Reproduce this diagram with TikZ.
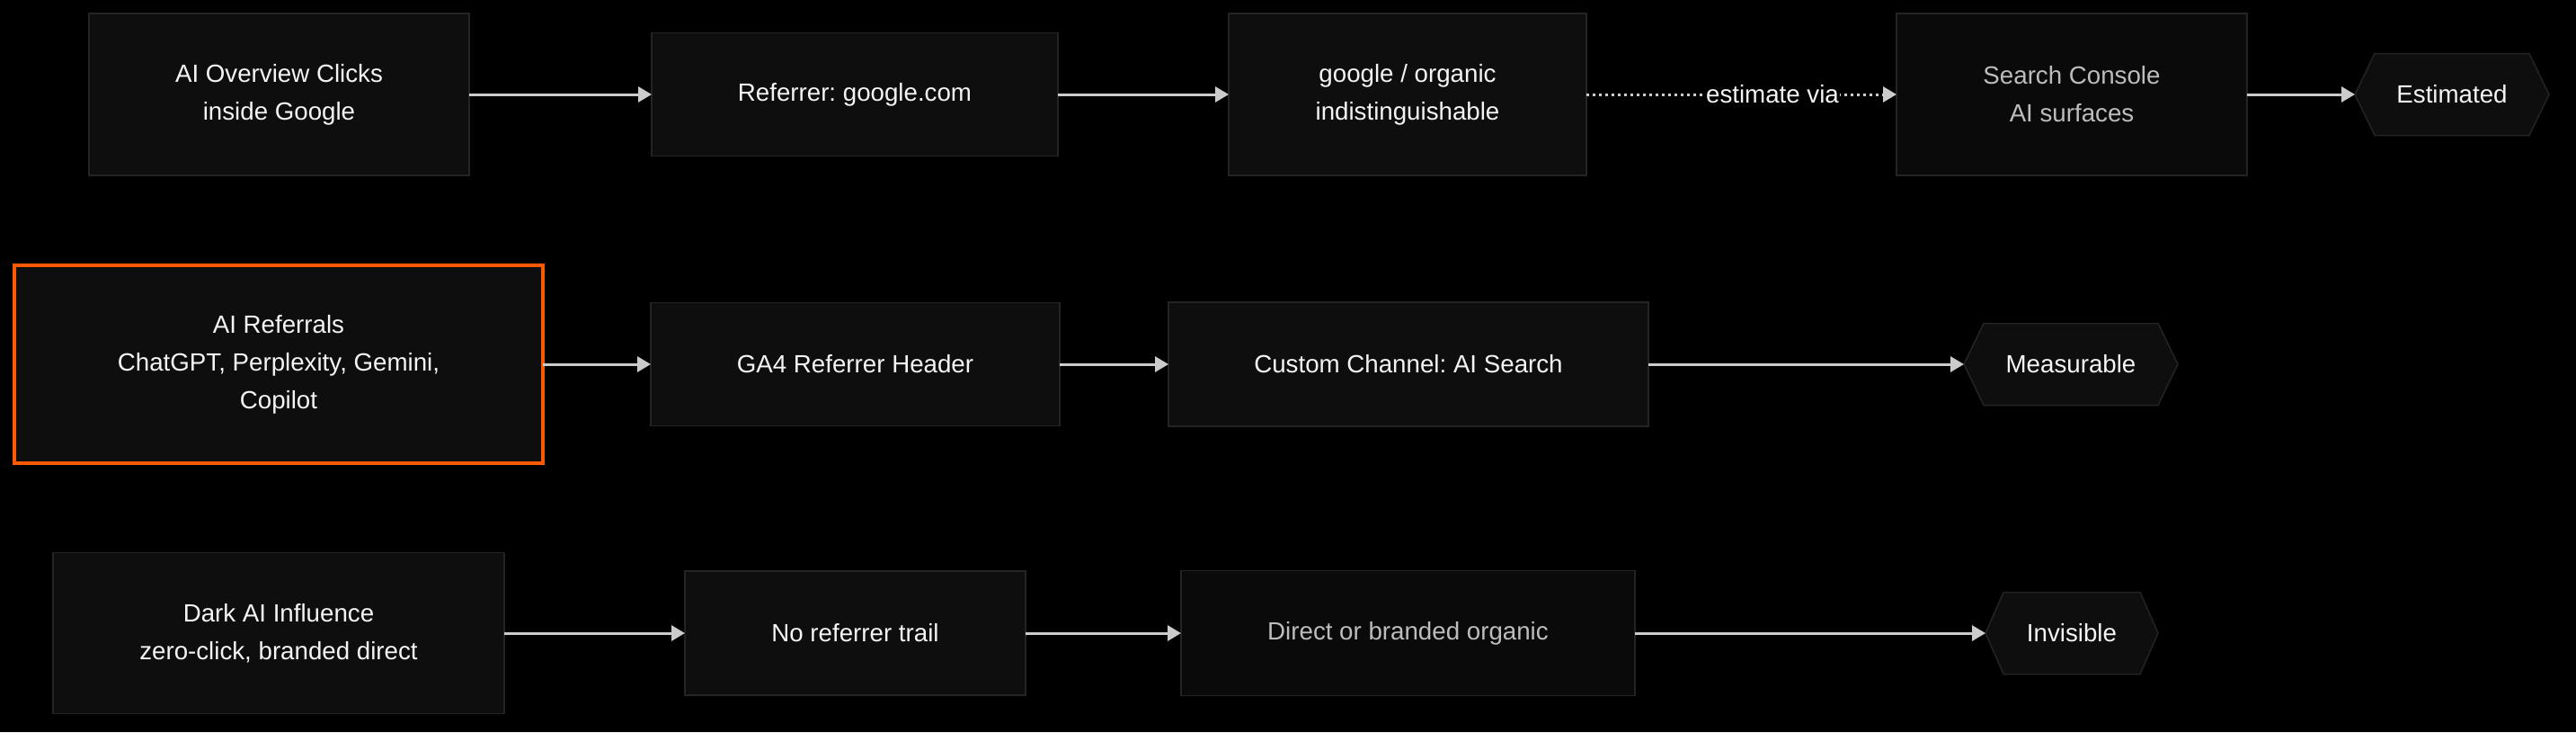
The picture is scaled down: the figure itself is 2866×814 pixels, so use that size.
\documentclass[tikz,border=0pt]{standalone}
\usepackage{fontspec}
\setmainfont{Liberation Sans}
\usetikzlibrary{arrows.meta,backgrounds}
\definecolor{boxfill}{HTML}{0E0E0E}
\definecolor{boxfilldark}{HTML}{0A0A0A}
\definecolor{boxline}{HTML}{242424}
\definecolor{orangeline}{HTML}{FF5A00}
\definecolor{arrowcol}{HTML}{CCCCCC}
\definecolor{txt}{HTML}{F4F4F4}
\definecolor{txtgray}{HTML}{BDBDBD}
\newcommand\hexdraw[2]{%
  \filldraw[fill=boxfill,draw=boxline,line width=1.5pt]
    (#1.west) -- ([xshift=#2pt]#1.north west) -- ([xshift=-#2pt]#1.north east)
    -- (#1.east) -- ([xshift=-#2pt]#1.south east) -- ([xshift=#2pt]#1.south west) -- cycle;}
\frenchspacing
\begin{document}
\begin{tikzpicture}[x=1pt,y=-1pt,
  every node/.style={font=\fontsize{27.7}{42}\selectfont, text=txt, align=center, inner sep=0pt, outer sep=0pt},
  box/.style={draw=boxline, line width=1.5pt, fill=boxfill, rectangle},
  boxdark/.style={box, fill=boxfilldark, text=txtgray},
  hilite/.style={draw=orangeline, line width=4pt, fill=boxfill, rectangle},
  hexnode/.style={rectangle, draw=none, minimum height=91pt},
  arr/.style={draw=arrowcol, line width=3pt, -{Triangle[length=15pt,width=17pt]}},
  dotarr/.style={arr, dash pattern=on 3pt off 4pt},
  lbl/.style={fill=black, inner xsep=1pt, inner ysep=3pt}
]
\begin{pgfonlayer}{background}
\fill[black] (0,0) rectangle (2866,814);
\end{pgfonlayer}
\useasboundingbox (0,0) rectangle (2866,814);

% Row 1
\node[box, minimum width=423pt, minimum height=180pt] (A) at (310.5,105) {AI Overview Clicks\\inside Google};
\node[box, minimum width=452pt, minimum height=137pt] (B) at (951,105) {Referrer: google.com};
\node[box, minimum width=398pt, minimum height=180pt] (C) at (1566,105) {google / organic\\indistinguishable};
\node[boxdark, minimum width=390pt, minimum height=180pt] (D) at (2305,105) {Search Console\\AI surfaces};
\node[hexnode, minimum width=216pt] (E1) at (2728,105) {Estimated};

% Row 2
\node[hilite, minimum width=588pt, minimum height=220pt] (R) at (310,405) {AI Referrals\\ChatGPT, Perplexity, Gemini,\\Copilot};
\node[box, minimum width=455pt, minimum height=137pt] (F) at (951.5,405) {GA4 Referrer Header};
\node[box, minimum width=534pt, minimum height=138pt] (G) at (1567,405) {Custom Channel: AI Search};
\node[hexnode, minimum width=238pt] (M1) at (2304,405) {Measurable};

% Row 3
\node[box, minimum width=502pt, minimum height=179pt] (H) at (310,704) {Dark AI Influence\\zero-click, branded direct};
\node[box, minimum width=379pt, minimum height=138pt] (I) at (951.5,704) {No referrer trail};
\node[boxdark, minimum width=505pt, minimum height=139pt] (J) at (1566.5,704) {Direct or branded organic};
\node[hexnode, minimum width=192pt] (V1) at (2305,704) {Invisible};

\begin{pgfonlayer}{background}
\hexdraw{E1}{22}
\hexdraw{M1}{22}
\hexdraw{V1}{20}
\end{pgfonlayer}

% Connectors
\draw[arr] (A) -- (B);
\draw[arr] (B) -- (C);
\draw[dotarr] (C) -- node[lbl, pos=0.6] {estimate via} (D);
\draw[arr] (D) -- (E1);

\draw[arr] (R) -- (F);
\draw[arr] (F) -- (G);
\draw[arr] (G) -- (M1);

\draw[arr] (H) -- (I);
\draw[arr] (I) -- (J);
\draw[arr] (J) -- (V1);
\end{tikzpicture}
\end{document}
